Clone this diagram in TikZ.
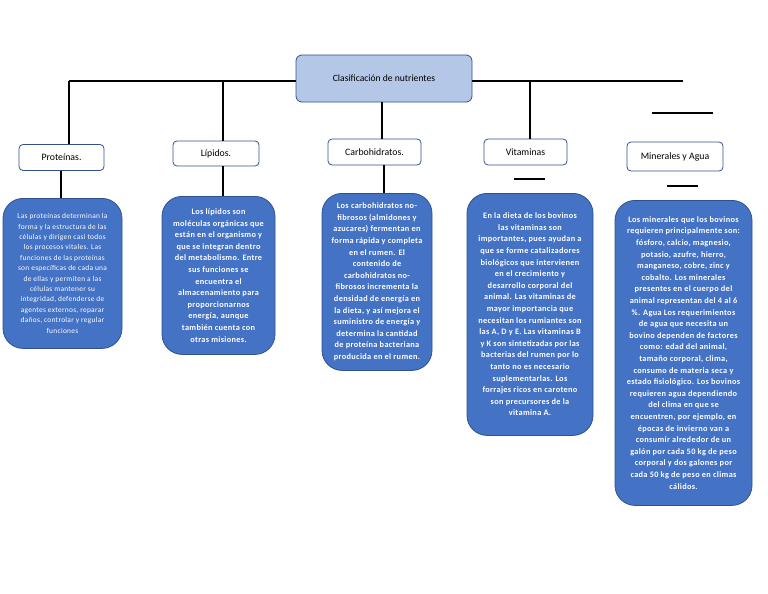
\documentclass[tikz,border=0pt]{standalone}
\usepackage{fontspec}
\setmainfont{Carlito}
\newfontfamily\espaciada[LetterSpace=4]{Carlito}
\usetikzlibrary{positioning}
\definecolor{azul}{HTML}{4472C4}
\definecolor{borde}{HTML}{2F528F}
\definecolor{celeste}{HTML}{B4C7E7}
\tikzset{
  raiz/.style={draw=borde,fill=celeste,rounded corners=6pt,line width=0.8pt,
    minimum width=176pt,minimum height=47pt,font=\fontsize{9.6}{11}\selectfont},
  cat/.style={draw=borde,fill=white,rounded corners=4pt,line width=0.8pt,
    minimum height=26pt,font=\fontsize{9.8}{11}\selectfont},
  caja/.style={draw=borde,fill=azul,text=white,rounded corners=20pt,line width=0.8pt,
    align=center,anchor=north,inner sep=2pt,font=\espaciada\fontsize{8.3}{11.6}\selectfont\bfseries},
  lin/.style={line width=1.1pt},
}

\begin{document}
\begin{tikzpicture}[x=1pt,y=-1pt]
  \useasboundingbox (0,0) rectangle (768,594);
  % titulo y categorias
  \node[raiz] (raiz) at (384,78.5) {Clasificación de nutrientes};
  \node[cat,minimum width=85pt] (prot) at (61.5,157.5) {Proteínas.};
  \node[cat,minimum width=86pt,minimum height=25pt] (lip) at (216,153.5) {Lípidos.};
  \node[cat,minimum width=93pt] (carb) at (374.5,152) {Carbohidratos.};
  \node[cat,minimum width=83pt] (vit) at (525.5,152) {Vitaminas};
  \node[cat,minimum width=96pt,minimum height=29pt] (mine) at (675,156.5) {Minerales y Agua};
  % cajas de texto
  \node[caja,minimum width=119pt,minimum height=150pt,font=\espaciada\fontsize{7.4}{10.4}\selectfont] (tprot) at (62.5,198) {%
    Las proteínas determinan la\\forma y la estructura de las\\células y dirigen casi todos\\los procesos vitales. Las\\%
    funciones de las proteínas\\son específicas de cada una\\de ellas y permiten a las\\células mantener su\\%
    integridad, defenderse de\\agentes externos, reparar\\daños, controlar y regular\\funciones};
  \node[caja,minimum width=113pt,minimum height=158pt] (tlip) at (218.5,196) {%
    Los lípidos son\\moléculas orgánicas que\\están en el organismo y\\que se integran dentro\\%
    del metabolismo. Entre\\sus funciones se\\encuentra el\\almacenamiento para\\%
    proporcionarnos\\energía, aunque\\también cuenta con\\otras misiones.};
  \node[caja,minimum width=110pt,minimum height=177pt] (tcarb) at (377,193) {%
    Los carbohidratos no-\\fibrosos (almidones y\\azucares) fermentan en\\forma rápida y completa\\%
    en el rumen. El\\contenido de\\carbohidratos no-\\fibrosos incrementa la\\%
    densidad de energía en\\la dieta, y así mejora el\\suministro de energía y\\%
    determina la cantidad\\de proteína bacteriana\\producida en el rumen.};
  \node[caja,minimum width=126pt,minimum height=242pt] (tvit) at (530,193) {%
    En la dieta de los bovinos\\las vitaminas son\\importantes, pues ayudan a\\que se forme catalizadores\\%
    biológicos que intervienen\\en el crecimiento y\\desarrollo corporal del\\animal. Las vitaminas de\\%
    mayor importancia que\\necesitan los rumiantes son\\las A, D y E. Las vitaminas B\\y K son sintetizadas por las\\%
    bacterias del rumen por lo\\tanto no es necesario\\suplementarlas. Los\\forrajes ricos en caroteno\\%
    son precursores de la\\vitamina A.};
  \node[caja,minimum width=137pt,minimum height=305pt] (tmin) at (683.5,200) {%
    Los minerales que los bovinos\\requieren principalmente son:\\fósforo, calcio, magnesio,\\potasio, azufre, hierro,\\%
    manganeso, cobre, zinc y\\cobalto. Los minerales\\presentes en el cuerpo del\\animal representan del 4 al 6\\%
    \%. Agua Los requerimientos\\de agua que necesita un\\bovino dependen de factores\\como: edad del animal,\\%
    tamaño corporal, clima,\\consumo de materia seca y\\estado fisiológico. Los bovinos\\requieren agua dependiendo\\%
    del clima en que se\\encuentren, por ejemplo, en\\épocas de invierno van a\\consumir alrededor de un\\%
    galón por cada 50 kg de peso\\corporal y dos galones por\\cada 50 kg de peso en climas\\cálidos.};
  % conectores
  \coordinate (hi) at (69,81);
  \coordinate (hd) at (683,81);
  \coordinate (alip) at (223,81);
  \coordinate (avit) at (530,81);
  \draw[lin] (hi) -- (raiz.west |- hi);
  \draw[lin] (raiz.east |- hd) -- (hd);
  \draw[lin] (hi) -- (hi |- prot.north);
  \draw[lin] (alip) -- (alip |- lip.north);
  \draw[lin] (raiz.south -| 382,0) -- (carb.north -| 382,0);
  \draw[lin] (avit) -- (avit |- vit.north);
  \draw[lin] (prot.south -| 61,0) -- (tprot.north -| 61,0);
  \draw[lin] (lip.south -| 223,0) -- (tlip.north -| 223,0);
  \draw[lin] (carb.south -| 384,0) -- (tcarb.north -| 384,0);
  % rayas sueltas
  \draw[lin] (514,179) -- (545,179);
  \draw[lin] (652,113) -- (713,113);
  \draw[lin] (667,186) -- (698,186);
\end{tikzpicture}
\end{document}
